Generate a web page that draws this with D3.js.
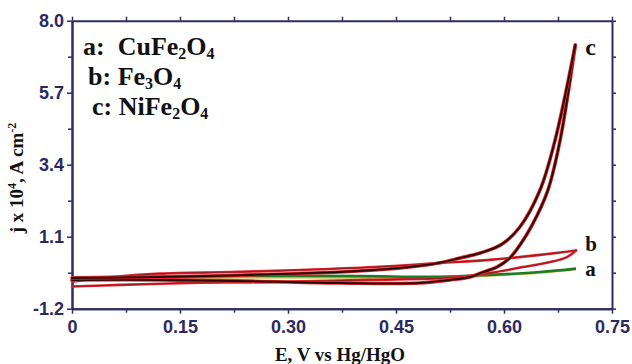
<!DOCTYPE html>
<html><head><meta charset="utf-8">
<script src="https://cdn.jsdelivr.net/npm/d3@7"></script>
<style>html,body{margin:0;padding:0;background:#fff;}svg{display:block;}</style>
</head><body>
<svg id="chart" width="632" height="364"></svg>
<script>
// ---- data (E in V vs Hg/HgO, j x 10^4 A cm^-2) ----
const xTicks = [0, 0.15, 0.30, 0.45, 0.60, 0.75];
const xTickLabels = ["0", "0.15", "0.30", "0.45", "0.60", "0.75"];
const yTicks = [-1.2, 1.1, 3.4, 5.7, 8.0];
const yTickLabels = ["-1.2", "1.1", "3.4", "5.7", "8.0"];

// a: CuFe2O4 (green)
const aFwdE = [0, 0.12, 0.25, 0.40, 0.51, 0.58, 0.65, 0.70];
const aFwdJ = [-0.20, -0.17, -0.15, -0.16, -0.18, -0.12, -0.03, 0.08];
const aRevE = [0.70, 0.65, 0.58, 0.51, 0.40, 0.25, 0.12, 0];
const aRevJ = [0.06, -0.06, -0.15, -0.21, -0.22, -0.21, -0.23, -0.26];

// b: Fe3O4 (red)
const bFwdE = [0, 0.067, 0.178, 0.247, 0.414, 0.525, 0.58, 0.626, 0.664, 0.6875, 0.70];
const bFwdJ = [-0.49, -0.44, -0.37, -0.36, -0.28, -0.21, -0.06, 0.13, 0.29, 0.45, 0.66];
const bRevE = [0.70, 0.65, 0.58, 0.511, 0.42, 0.317, 0.22, 0.122, 0.06, 0];
const bRevJ = [0.66, 0.52, 0.36, 0.26, 0.13, 0.035, -0.03, -0.08, -0.18, -0.34];

// c: NiFe2O4 (dark red / black)
const cFwdE = [0, 0.122, 0.247, 0.372, 0.483, 0.525, 0.553, 0.571, 0.590, 0.608, 0.622, 0.639, 0.661, 0.678, 0.699];
const cFwdJ = [-0.28, -0.28, -0.32, -0.38, -0.38, -0.28, -0.19, -0.03, 0.13, 0.42, 0.83, 1.47, 2.59, 4.19, 7.22];
const cRevE = [0.699, 0.671, 0.650, 0.622, 0.597, 0.567, 0.539, 0.511, 0.456, 0.372, 0.247, 0.122, 0];
const cRevJ = [7.22, 4.19, 2.59, 1.41, 0.86, 0.58, 0.42, 0.27, 0.10, -0.03, -0.12, -0.19, -0.22];

const legendLines = [
  {k: "a:  ", parts: [["CuFe", 0], ["2", 1], ["O", 0], ["4", 1]]},
  {k: "b: ", parts: [["Fe", 0], ["3", 1], ["O", 0], ["4", 1]]},
  {k: "c: ", parts: [["NiFe", 0], ["2", 1], ["O", 0], ["4", 1]]}
];
const curveLabels = ["c", "b", "a"];
const curveLabelE = [0.706, 0.706, 0.706];
const curveLabelJ = [7.22, 0.66, 0.06];

// ---- drawing ----
const svg = d3.select("#chart");
const L = 72, R = 612, T = 20.7, B = 308.7;
const x = d3.scaleLinear().domain([0, 0.75]).range([L, R]);
const y = d3.scaleLinear().domain([-1.2, 8.0]).range([B, T]);
const axisColor = "#2e2c62";
const labelColor = "#2b2960";

const minorX = d3.range(0, 0.75, 0.15).map(v => v + 0.075);
const minorY = yTicks.slice(0, -1).map(v => v + 1.15);

// axes
const gx = svg.append("g").attr("transform", `translate(0,${B})`)
  .call(d3.axisBottom(x).tickValues(xTicks).tickSize(5).tickSizeOuter(0).tickFormat((d, i) => xTickLabels[i]));
const gxm = svg.append("g").attr("transform", `translate(0,${B})`)
  .call(d3.axisBottom(x).tickValues(minorX).tickSize(4).tickSizeOuter(0).tickFormat(""));
const gt = svg.append("g").attr("transform", `translate(0,${T})`)
  .call(d3.axisTop(x).tickValues(xTicks.concat(minorX)).tickSize(4).tickSizeOuter(0).tickFormat(""));
const gy = svg.append("g").attr("transform", `translate(${L},0)`)
  .call(d3.axisLeft(y).tickValues(yTicks).tickSize(5).tickSizeOuter(0).tickFormat((d, i) => yTickLabels[i]));
const gym = svg.append("g").attr("transform", `translate(${L},0)`)
  .call(d3.axisLeft(y).tickValues(minorY).tickSize(4).tickSizeOuter(0).tickFormat(""));
const gr = svg.append("g").attr("transform", `translate(${R},0)`)
  .call(d3.axisRight(y).tickValues(yTicks.concat(minorY)).tickSize(4).tickSizeOuter(0).tickFormat(""));

[gx, gxm, gt, gy, gym, gr].forEach(g => {
  g.selectAll("path.domain").attr("stroke", axisColor).attr("stroke-width", 2);
  g.selectAll(".tick line").attr("stroke", axisColor).attr("stroke-width", 1.5);
});
gx.selectAll(".tick text").attr("fill", labelColor).attr("font-family", "Liberation Sans, Arial, sans-serif")
  .attr("font-weight", "bold").attr("font-size", 18).attr("dy", "0.95em").attr("y", 7);
gy.selectAll(".tick text").attr("fill", labelColor).attr("font-family", "Liberation Sans, Arial, sans-serif")
  .attr("font-weight", "bold").attr("font-size", 18).attr("x", -8);

// curves
const line = d3.line().x(d => x(d[0])).y(d => y(d[1])).curve(d3.curveCatmullRom.alpha(0.5));
const zip = (E, J) => E.map((e, i) => [e, J[i]]);

const plot = svg.append("g");
// a
plot.append("path").attr("d", line(zip(aRevE, aRevJ))).attr("fill", "none").attr("stroke", "#d8cc6a").attr("stroke-width", 2);
plot.append("path").attr("d", line(zip(aFwdE, aFwdJ))).attr("fill", "none").attr("stroke", "#1e7a24").attr("stroke-width", 2.6);
// b
[zip(bFwdE, bFwdJ), zip(bRevE, bRevJ)].forEach(d => {
  plot.append("path").attr("d", line(d)).attr("fill", "none").attr("stroke", "#e0242c").attr("stroke-width", 2.6).attr("stroke-linecap", "round");
  plot.append("path").attr("d", line(d)).attr("fill", "none").attr("stroke", "#8a1a22").attr("stroke-width", 0.9);
});
// c
[zip(cFwdE, cFwdJ), zip(cRevE, cRevJ)].forEach(d => {
  plot.append("path").attr("d", line(d)).attr("fill", "none").attr("stroke", "#e02a30").attr("stroke-width", 3.6).attr("stroke-linecap", "round");
  plot.append("path").attr("d", line(d)).attr("fill", "none").attr("stroke", "#2a0808").attr("stroke-width", 2).attr("stroke-linecap", "round");
});

// legend
const serif = "Liberation Serif, Times New Roman, serif";
const legX = [83, 88, 92], legY = [55, 85, 115];
legendLines.forEach((ln, i) => {
  const t = svg.append("text").attr("x", legX[i]).attr("y", legY[i]).attr("font-family", serif)
    .attr("font-weight", "bold").attr("font-size", 26).attr("fill", "#111");
  t.append("tspan").style("white-space", "pre").text(ln.k);
  let sub = false;
  ln.parts.forEach(p => {
    if (p[1]) { t.append("tspan").attr("font-size", 16).attr("dy", 4).text(p[0]); sub = true; }
    else { t.append("tspan").attr("dy", sub ? -4 : 0).text(p[0]); sub = false; }
  });
});

// curve labels
const labelDy = [10, 0.5, 7];
curveLabels.forEach((s, i) => {
  svg.append("text").attr("x", x(curveLabelE[i]) + 5).attr("y", y(curveLabelJ[i]) + labelDy[i]).attr("font-family", serif)
    .attr("font-weight", "bold").attr("font-size", i === 0 ? 24 : 21).attr("fill", "#111").text(s);
});

// axis titles
svg.append("text").attr("x", 340).attr("y", 361).attr("text-anchor", "middle").attr("font-family", serif)
  .attr("font-weight", "bold").attr("font-size", 19).attr("fill", "#111").text("E, V vs Hg/HgO");
const yt = svg.append("text").attr("transform", "translate(23,178) rotate(-90)").attr("text-anchor", "middle")
  .attr("font-family", serif).attr("font-weight", "bold").attr("font-size", 19).attr("fill", "#111");
yt.append("tspan").text("j x 10");
yt.append("tspan").attr("font-size", 12).attr("dy", -7).text("4");
yt.append("tspan").attr("dy", 7).text(", A cm");
yt.append("tspan").attr("font-size", 12).attr("dy", -7).text("-2");
</script>
</body></html>
